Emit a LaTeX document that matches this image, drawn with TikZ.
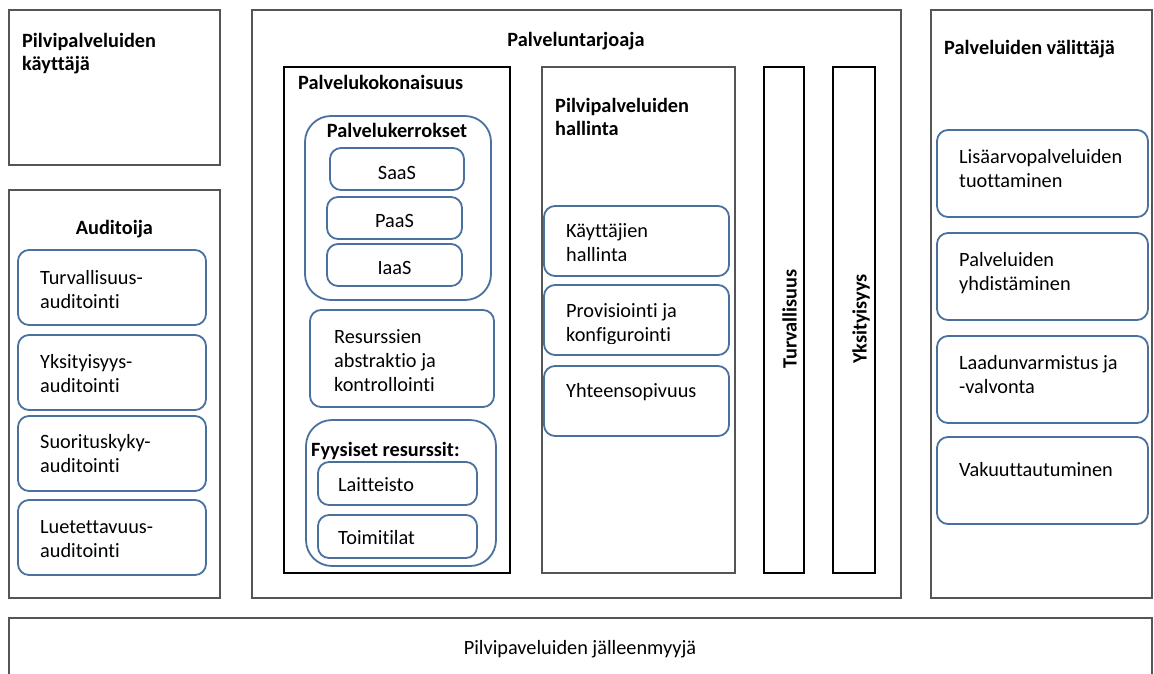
\documentclass[tikz,border=0pt]{standalone}
\usepackage{fontspec}
\setmainfont[Ligatures=NoCommon]{Carlito}
\usetikzlibrary{fit}
\definecolor{rb}{RGB}{74,112,158}
\definecolor{ob}{RGB}{85,85,85}
\tikzset{
 obox/.style={draw=ob, line width=1.1pt, inner sep=0pt},
 kbox/.style={draw=black, line width=1.5pt, inner sep=0pt},
 rbox/.style={draw=rb, line width=1.8pt, rounded corners=11pt, inner sep=0pt},
 bigr/.style={draw=rb, line width=1.8pt, rounded corners=26pt, inner sep=0pt},
 lbl/.style={font=\fontsize{20.3}{23.8}\selectfont, inner sep=0pt, align=left, anchor=base west},
 blbl/.style={lbl, font=\fontsize{20.3}{23}\selectfont\bfseries},
 clbl/.style={font=\fontsize{20.3}{24}\selectfont, inner sep=0pt, anchor=base},
 cblbl/.style={clbl, font=\fontsize{20.3}{24}\selectfont\bfseries},
}
\newcommand\bx[6]{\node[#2, fit={(#3,#4)(#5,#6)}] (#1) {};}
\begin{document}
\begin{tikzpicture}[x=1pt,y=-1pt]
\useasboundingbox (0,0) rectangle (1154,673);
% outer boxes
\bx{user}{obox}{9}{10}{220}{165}
\bx{aud}{obox}{9}{190}{220}{598}
\bx{prov}{obox}{252}{10}{901}{598}
\bx{brok}{obox}{931}{10}{1152}{598}
\bx{res}{obox}{9}{618}{1152}{690}
% provider inner
\bx{orch}{kbox}{284}{67}{510}{573}
\bx{mgmt}{obox}{542}{67}{735}{573}
\bx{sec}{kbox}{764}{67}{804}{573}
\bx{priv}{kbox}{833}{67}{875}{573}
% service layers
\bx{layers}{bigr}{305}{116}{491}{300}
\bx{saas}{rbox}{330}{148}{464}{190}
\bx{paas}{rbox}{327}{197}{462}{239}
\bx{iaas}{rbox}{327}{244}{462}{286}
\bx{abs}{rbox}{310}{310}{494}{407}
\bx{phys}{bigr}{306}{420}{496}{566}
\bx{hw}{rbox}{318}{462}{477}{505}
\bx{fac}{rbox}{318}{515}{477}{558}
% management
\bx{um}{rbox}{544}{206}{729}{276}
\bx{pc}{rbox}{544}{285}{729}{355}
\bx{ip}{rbox}{544}{366}{729}{436}
% auditor
\bx{a1}{rbox}{18}{250}{206}{325}
\bx{a2}{rbox}{18}{335}{206}{410}
\bx{a3}{rbox}{18}{416}{206}{491}
\bx{a4}{rbox}{18}{500}{206}{575}
% broker
\bx{b1}{rbox}{937}{130}{1148}{217}
\bx{b2}{rbox}{937}{233}{1148}{320}
\bx{b3}{rbox}{937}{336}{1148}{423}
\bx{b4}{rbox}{937}{437}{1148}{524}
% texts (multi-line labels: position = baseline of the last line)
\node[blbl] (tuser) at (22,70) {Pilvipalveluiden\\käyttäjä};
\node[cblbl] (taud) at (114.4,234) {Auditoija};
\node[lbl] (ta1) at (40,308.5) {Turvallisuus-\\auditointi};
\node[lbl] (ta2) at (40,392) {Yksityisyys-\\auditointi};
\node[lbl] (ta3) at (40,472.5) {Suorituskyky-\\auditointi};
\node[lbl] (ta4) at (40,557) {Luetettavuus-\\auditointi};
\node[cblbl] (tprov) at (576,46) {Palveluntarjoaja};
\node[blbl] (torch) at (298,89) {Palvelukokonaisuus};
\node[cblbl] (tlayers) at (397,137.3) {Palvelukerrokset};
\node[clbl] (tsaas) at (397,179.3) {SaaS};
\node[clbl] (tpaas) at (394.5,227.3) {PaaS};
\node[clbl] (tiaas) at (394.5,274) {IaaS};
\node[lbl] (tabs) at (334,391) {Resurssien\\abstraktio ja\\kontrollointi};
\node[blbl] (tphys) at (311,456.7) {Fyysiset resurssit:};
\node[lbl] (thw) at (338,491.7) {Laitteisto};
\node[lbl] (tfac) at (338,544.3) {Toimitilat};
\node[blbl] (tmgmt) at (555,135) {Pilvipalveluiden\\hallinta};
\node[lbl] (tum) at (566,261.7) {Käyttäjien\\hallinta};
\begin{scope}
\clip (545,286) rectangle (728,343);
\node[lbl] (tpc) at (566,341.5) {Provisiointi ja\\konfigurointi};
\end{scope}
\node[lbl] (tip) at (566,397.7) {Yhteensopivuus};
\node[cblbl, rotate=90] (tsec) at (796.7,319) {Turvallisuus};
\node[cblbl, rotate=90] (tpriv) at (866.7,319) {Yksityisyys};
\node[blbl] (tbrok) at (944,54.3) {Palveluiden välittäjä};
\node[lbl] (tb1) at (959,187.7) {Lisäarvopalveluiden\\tuottaminen};
\node[lbl] (tb2) at (959,290) {Palveluiden\\yhdistäminen};
\node[lbl] (tb3) at (959,393.5) {Laadunvarmistus ja\\-valvonta};
\node[lbl] (tb4) at (959,476.7) {Vakuuttautuminen};
\node[clbl] (tres) at (580,654) {Pilvipaveluiden jälleenmyyjä};
\end{tikzpicture}
\end{document}
